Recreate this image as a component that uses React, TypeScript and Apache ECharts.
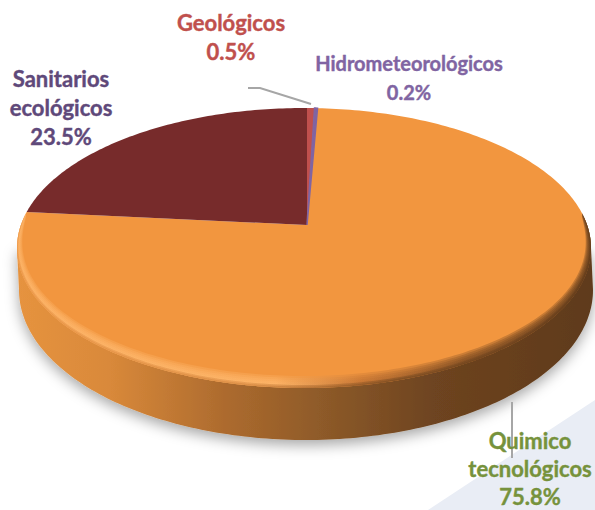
import React, { useEffect, useRef } from "react";
import * as echarts from "echarts";

const categories = ["Geológicos", "Hidrometeorológicos", "Quimico tecnológicos", "Sanitarios ecológicos"];
const values = [0.5, 0.2, 75.8, 23.5];
const sliceColors = ["#c0504d", "#8064a2", "#f2963f", "#772b2b"];
const labelLines = [["Geológicos", "0.5%"], ["Hidrometeorológicos", "0.2%"], ["Quimico", "tecnológicos", "75.8%"], ["Sanitarios", "ecológicos", "23.5%"]];
const labelColors = ["#c0504d", "#8064a2", "#76923c", "#5f497a"];
const labelAnchors = [[231, 37], [409, 77], [530, 468], [61, 107]];
const labelSizes = [22, 20, 22, 22];
const labelLineHeights = [29, 29, 28, 29];
const bevelDepths = [12, 10, 8, 6, 4];

const TOP = { cx: 304, cy: 248, rx: 287, ry: 140 };
const BASE = { cx: 306, cy: 290, rx: 287, ry: 150 };
const APEX = { x: 307, y: 225 };

type E = { cx: number; cy: number; rx: number; ry: number };
const on = (e: E, t: number): number[] => [e.cx + e.rx * Math.sin(t), e.cy - e.ry * Math.cos(t)];
const arc = (e: E, a: number, b: number, n = 160): number[][] => {
  const out: number[][] = [];
  for (let i = 0; i <= n; i++) out.push(on(e, a + ((b - a) * i) / n));
  return out;
};
const hit = (alpha: number): number => {
  const dx = Math.sin(alpha) * TOP.rx;
  const dy = -Math.cos(alpha) * TOP.ry;
  const ox = (APEX.x - TOP.cx) / TOP.rx;
  const oy = (APEX.y - TOP.cy) / TOP.ry;
  const ux = dx / TOP.rx;
  const uy = dy / TOP.ry;
  const A = ux * ux + uy * uy;
  const B = 2 * (ox * ux + oy * uy);
  const C = ox * ox + oy * oy - 1;
  const s = (-B + Math.sqrt(B * B - 4 * A * C)) / (2 * A);
  return Math.atan2(ox + ux * s, -(oy + uy * s));
};
const norm = (a: number, ref: number): number => {
  let r = a;
  while (r < ref) r += Math.PI * 2;
  return r;
};

// a band along the lower rim, tapering to nothing at both ends of the ellipse
const band = (d: number): number[][] => {
  const a = Math.PI * 0.42;
  const b = Math.PI * 1.58;
  const outer = arc(TOP, a, b, 180);
  const inner: number[][] = [];
  for (let i = 180; i >= 0; i--) {
    const t = a + ((b - a) * i) / 180;
    const w = Math.sqrt(Math.max(0, Math.sin(((t - a) / (b - a)) * Math.PI)));
    const [x, y] = on(TOP, t);
    const nx = Math.sin(t) / TOP.rx;
    const ny = -Math.cos(t) / TOP.ry;
    const nl = Math.hypot(nx, ny);
    inner.push([x - (nx / nl) * d * w, y - (ny / nl) * d * w]);
  }
  return [...outer, ...inner];
};

const grad = (stops: [number, string][]) =>
  new echarts.graphic.LinearGradient(0, 0, 1, 0, stops.map(([offset, color]) => ({ offset, color })));

export default function App() {
  const ref = useRef<HTMLDivElement>(null);
  useEffect(() => {
    const chart = echarts.init(ref.current!, undefined, { renderer: "svg" });
    const total = values.reduce((a, b) => a + b, 0);
    const HP = Math.PI / 2;
    const wallPoints = [[TOP.cx - TOP.rx, TOP.cy], ...arc(BASE, -HP, -Math.PI * 1.5), [TOP.cx + TOP.rx, TOP.cy]];
    chart.setOption({
      animation: false,
      backgroundColor: "#ffffff",
      graphic: [
        {
          type: "polygon", z: 0, silent: true,
          shape: { points: [[595, 400], [428, 510], [595, 510]] },
          style: { fill: "#e9edf5" },
        },
        {
          type: "polyline", z: 30, silent: true,
          shape: { points: [[248, 88], [260, 88], [311, 104]] },
          style: { stroke: "#a6a6a6", lineWidth: 2, fill: "none" },
        },
        {
          type: "polyline", z: 30, silent: true,
          shape: { points: [[512, 402], [512, 458]] },
          style: { stroke: "#a6a6a6", lineWidth: 2, fill: "none" },
        },
        ...labelLines.map((lines, i) => ({
          type: "text", z: 31, silent: true,
          x: labelAnchors[i][0], y: labelAnchors[i][1],
          style: {
            text: lines.join("\n"),
            fill: labelColors[i],
            stroke: labelColors[i],
            lineWidth: 0.4,
            font: `700 ${labelSizes[i]}px Lato, 'Noto Sans', sans-serif`,
            lineHeight: labelLineHeights[i],
            align: "center",
            verticalAlign: "middle",
          },
        })),
      ],
      series: [
        {
          type: "custom", coordinateSystem: "none", z: 5, silent: true,
          data: [0],
          renderItem: () => ({
            type: "polygon",
            shape: { points: wallPoints },
            style: {
              fill: grad([[0, "#e6933f"], [0.16, "#d9893a"], [0.36, "#ad6b2e"], [0.55, "#8a5828"], [0.72, "#6e4420"], [1, "#5f3a1a"]]),
              shadowBlur: 14, shadowColor: "rgba(0,0,0,0.35)", shadowOffsetY: 5,
            },
          }),
        },
        {
          type: "custom", coordinateSystem: "none", z: 6, silent: true,
          data: values.map((v, i) => [v, i]),
          renderItem: (_: any, api: any) => {
            const v = api.value(0);
            const i = api.value(1);
            const before = values.slice(0, i).reduce((a, b) => a + b, 0);
            const a0 = hit((before / total) * Math.PI * 2);
            const a1 = norm(hit(((before + v) / total) * Math.PI * 2), a0);
            return {
              type: "polygon",
              z2: v < 0.4 ? 5 : 0,
              shape: { points: [[APEX.x, APEX.y], ...arc(TOP, a0, a1, Math.max(4, Math.ceil(v * 4)))] },
              style: v < 0.4
                ? { fill: sliceColors[i], stroke: sliceColors[i], lineWidth: 1.5 }
                : { fill: sliceColors[i] },
            };
          },
        },
        {
          type: "custom", coordinateSystem: "none", z: 7, silent: true,
          data: bevelDepths.map((d) => [d]),
          renderItem: (_: any, api: any) => ({
            type: "polygon",
            shape: { points: band(api.value(0)) },
            style: {
              fill: grad([
                [0, "rgba(255,186,112,0.28)"],
                [0.45, "rgba(255,186,112,0.28)"],
                [0.6, "rgba(190,112,50,0.28)"],
                [0.78, "rgba(120,72,32,0.32)"],
                [1, "rgba(96,58,26,0.32)"],
              ]),
            },
          }),
        },
        {
          type: "custom", coordinateSystem: "none", z: 8, silent: true,
          data: [3, 1.5],
          renderItem: (_: any, api: any) => ({
            type: "polygon",
            shape: { points: band(api.value(0)) },
            style: {
              fill: grad([
                [0, "rgba(225,135,55,0.35)"],
                [0.4, "rgba(200,120,50,0.35)"],
                [0.65, "rgba(120,74,32,0.5)"],
                [1, "rgba(96,58,26,0.5)"],
              ]),
            },
          }),
        },
      ],
    });
    return () => chart.dispose();
  }, []);
  return <div ref={ref} style={{ width: 595, height: 510, position: "fixed", left: 0, top: 0 }} />;
}
